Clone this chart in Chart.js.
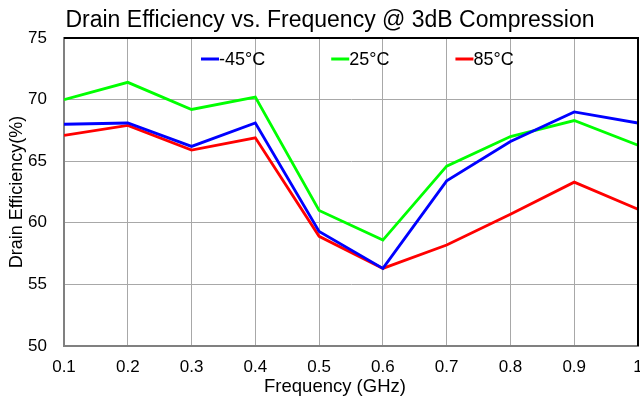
<!DOCTYPE html>
<html>
<head>
<meta charset="utf-8">
<script src="https://cdn.jsdelivr.net/npm/chart.js@4/dist/chart.umd.min.js"></script>
<style>
  html, body { margin: 0; padding: 0; background: #ffffff; }
  #wrap { width: 640px; height: 400px; }
</style>
</head>
<body>
<div id="wrap"><canvas id="c" width="640" height="400"></canvas></div>
<script>
// Frequency points (GHz) and drain efficiency (%) per temperature
const frequencies = [0.1, 0.2, 0.3, 0.4, 0.5, 0.6, 0.7, 0.8, 0.9, 1.0];
const effMinus45 = [68.0, 68.1, 66.2, 68.1, 59.3, 56.3, 63.4, 66.6, 69.0, 68.1];
const eff25      = [70.0, 71.4, 69.2, 70.2, 61.0, 58.6, 64.6, 67.0, 68.3, 66.3];
const eff85      = [67.1, 67.9, 65.9, 66.9, 58.9, 56.3, 58.2, 60.7, 63.3, 61.1];

const seriesNames = ['-45°C', '25°C', '85°C'];
const xTickLabels = ['0.1', '0.2', '0.3', '0.4', '0.5', '0.6', '0.7', '0.8', '0.9', '1'];
const yTickLabels = ['50', '55', '60', '65', '70', '75'];

const titleText = 'Drain Efficiency vs. Frequency @ 3dB Compression';
const xTitleText = 'Frequency (GHz)';
const yTitleText = 'Drain Efficiency(%)';

const FONT = '"Liberation Sans", Arial, sans-serif';

function toPoints(values) {
  return frequencies.map((f, i) => ({ x: f, y: values[i] }));
}

// Heading above the plot and the frequency axis caption
const captionsPlugin = {
  id: 'captions',
  afterDraw(chart) {
    const ctx = chart.ctx;
    ctx.save();
    ctx.fillStyle = '#000000';
    ctx.textAlign = 'center';
    ctx.textBaseline = 'middle';
    ctx.font = '23px ' + FONT;
    ctx.fillText(titleText, 330, 21);
    ctx.font = '18.5px ' + FONT;
    ctx.fillText(xTitleText, 335, 387);
    ctx.restore();
  }
};

// Top and right edges of the plot frame
const framePlugin = {
  id: 'frame',
  afterDatasetsDraw(chart) {
    const { ctx, chartArea: a } = chart;
    ctx.save();
    ctx.strokeStyle = '#000000';
    ctx.lineWidth = 2;
    ctx.beginPath();
    ctx.moveTo(a.left, a.top);
    ctx.lineTo(a.right, a.top);
    ctx.lineTo(a.right, a.bottom);
    ctx.stroke();
    ctx.restore();
  }
};

// Legend drawn inside the plot area, one row
const insideLegendPlugin = {
  id: 'insideLegend',
  afterDraw(chart) {
    const ctx = chart.ctx;
    ctx.save();
    ctx.font = '18px ' + FONT;
    ctx.textBaseline = 'middle';
    ctx.textAlign = 'left';
    let x = 201;
    const y = 59;
    chart.data.datasets.forEach(ds => {
      ctx.strokeStyle = ds.borderColor;
      ctx.lineWidth = 3;
      ctx.beginPath();
      ctx.moveTo(x, y);
      ctx.lineTo(x + 18, y);
      ctx.stroke();
      x += 18;
      ctx.fillStyle = '#000000';
      ctx.fillText(ds.label, x, y + 1);
      x += ctx.measureText(ds.label).width + 66;
    });
    ctx.restore();
  }
};

new Chart(document.getElementById('c'), {
  type: 'line',
  data: {
    datasets: [
      { label: seriesNames[0], data: toPoints(effMinus45), borderColor: '#0000ff' },
      { label: seriesNames[1], data: toPoints(eff25), borderColor: '#00ff00' },
      { label: seriesNames[2], data: toPoints(eff85), borderColor: '#ff0000' }
    ].map(d => Object.assign(d, {
      borderWidth: 2.8,
      pointRadius: 0,
      pointHoverRadius: 0,
      tension: 0,
      fill: false
    }))
  },
  options: {
    responsive: false,
    animation: false,
    events: [],
    layout: { padding: { top: 38, right: 2, left: 0, bottom: 0 } },
    plugins: {
      legend: { display: false },
      title: { display: false },
      tooltip: { enabled: false }
    },
    scales: {
      x: {
        type: 'linear',
        min: 0.1,
        max: 1.0,
        afterBuildTicks(scale) {
          scale.ticks = frequencies.map(v => ({ value: v }));
        },
        ticks: {
          autoSkip: false,
          maxRotation: 0,
          color: '#000000',
          font: { family: FONT, size: 17 },
          padding: 11,
          callback: (v, i) => xTickLabels[i]
        },
        grid: { color: '#a8a8a8', lineWidth: 1, drawTicks: false },
        border: { display: true, color: '#808080', width: 2 },
        title: { display: false },
        afterFit(scale) {
          scale.height = 54;
          scale.paddingLeft = 0;
          scale.paddingRight = 0;
        }
      },
      y: {
        type: 'linear',
        min: 50,
        max: 75,
        afterBuildTicks(scale) {
          scale.ticks = yTickLabels.map(t => ({ value: Number(t) }));
        },
        ticks: {
          color: '#000000',
          font: { family: FONT, size: 17 },
          padding: 17,
          callback: (v, i) => yTickLabels[i]
        },
        grid: { color: '#a8a8a8', lineWidth: 1, drawTicks: false },
        border: { display: true, color: '#808080', width: 2 },
        title: {
          display: true,
          text: yTitleText,
          color: '#000000',
          font: { family: FONT, size: 18 },
          padding: { top: 6, bottom: 0 }
        },
        afterFit(scale) {
          scale.width = 64;
          scale.paddingTop = 0;
          scale.paddingBottom = 0;
        }
      }
    }
  },
  plugins: [captionsPlugin, framePlugin, insideLegendPlugin]
});
</script>
</body>
</html>
